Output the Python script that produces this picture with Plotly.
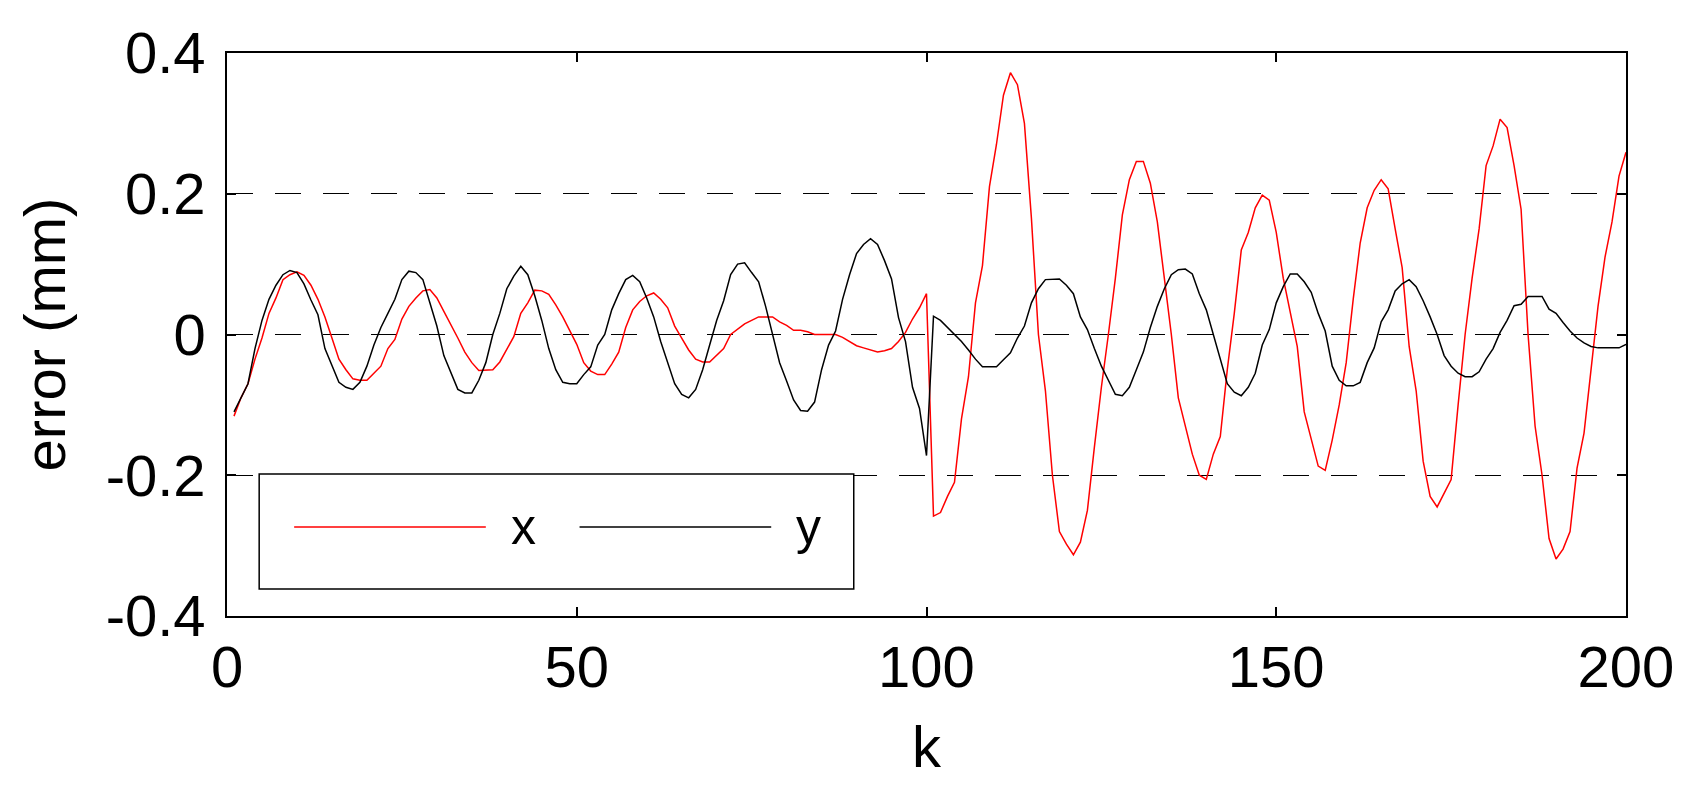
import plotly.graph_objects as go

k = list(range(1, 201))

error_x = [
    -0.116, -0.09, -0.07, -0.035, -0.005, 0.03, 0.052, 0.078, 0.085, 0.089,
    0.084, 0.07, 0.05, 0.025, -0.005, -0.035, -0.05, -0.063, -0.065, -0.065,
    -0.055, -0.045, -0.02, -0.007, 0.022, 0.04, 0.052, 0.062, 0.064, 0.052,
    0.033, 0.015, -0.005, -0.025, -0.04, -0.051, -0.051, -0.05, -0.039, -0.02,
    -0.003, 0.03, 0.045, 0.063, 0.062, 0.057, 0.042, 0.025, 0.006, -0.014,
    -0.04, -0.052, -0.057, -0.057, -0.042, -0.025, 0.01, 0.035, 0.047, 0.055,
    0.059, 0.05, 0.038, 0.012, -0.005, -0.022, -0.035, -0.039, -0.039, -0.03,
    -0.02, 0.0, 0.008, 0.015, 0.02, 0.025, 0.025, 0.025, 0.018, 0.013,
    0.006, 0.006, 0.004, 0.0, 0.0, 0.0, 0.0, -0.004, -0.01, -0.016,
    -0.019, -0.022, -0.025, -0.023, -0.02, -0.01, 0.003, 0.022, 0.038, 0.058,
    -0.258, -0.253, -0.23, -0.21, -0.12, -0.06, 0.045, 0.098, 0.21, 0.27,
    0.34, 0.372, 0.355, 0.3, 0.165, 0.0, -0.08, -0.2, -0.28, -0.298,
    -0.313, -0.295, -0.25, -0.16, -0.075, 0.0, 0.08, 0.17, 0.22, 0.246,
    0.246, 0.215, 0.16, 0.08, 0.0, -0.09, -0.13, -0.17, -0.2, -0.206,
    -0.17, -0.145, -0.05, 0.03, 0.12, 0.145, 0.18, 0.198, 0.191, 0.145,
    0.08, 0.03, -0.017, -0.11, -0.149, -0.187, -0.193, -0.15, -0.1, -0.04,
    0.05, 0.13, 0.18, 0.205, 0.22, 0.207, 0.15, 0.095, -0.017, -0.08,
    -0.18, -0.23, -0.245, -0.225, -0.206, -0.1, 0.0, 0.08, 0.15, 0.24,
    0.268, 0.306, 0.294, 0.24, 0.178, 0.0, -0.13, -0.2, -0.29, -0.319,
    -0.305, -0.28, -0.19, -0.14, -0.05, 0.04, 0.11, 0.16, 0.225, 0.259,
]

error_y = [
    -0.11, -0.09, -0.07, -0.02, 0.02, 0.05, 0.07, 0.085, 0.091, 0.088,
    0.072, 0.049, 0.028, -0.02, -0.045, -0.068, -0.075, -0.078, -0.068, -0.045,
    -0.015, 0.01, 0.03, 0.05, 0.078, 0.09, 0.088, 0.078, 0.045, 0.012,
    -0.03, -0.055, -0.078, -0.083, -0.083, -0.065, -0.04, 0.0, 0.03, 0.065,
    0.083, 0.097, 0.085, 0.055, 0.02, -0.02, -0.05, -0.068, -0.07, -0.07,
    -0.057, -0.046, -0.015, 0.0, 0.035, 0.058, 0.078, 0.084, 0.075, 0.052,
    0.025, -0.01, -0.04, -0.07, -0.085, -0.09, -0.078, -0.05, -0.015, 0.02,
    0.048, 0.085, 0.1, 0.102, 0.088, 0.075, 0.04, 0.0, -0.04, -0.066,
    -0.093, -0.108, -0.109, -0.096, -0.05, -0.015, 0.005, 0.05, 0.085, 0.115,
    0.128, 0.136, 0.128, 0.105, 0.079, 0.024, -0.01, -0.075, -0.105, -0.172,
    0.026, 0.02, 0.01, 0.0, -0.01, -0.022, -0.035, -0.046, -0.046, -0.046,
    -0.036, -0.026, -0.005, 0.012, 0.045, 0.065, 0.078, 0.079, 0.079, 0.07,
    0.058, 0.025, 0.007, -0.02, -0.045, -0.065, -0.085, -0.087, -0.075, -0.05,
    -0.025, 0.01, 0.04, 0.065, 0.085, 0.092, 0.093, 0.086, 0.058, 0.035,
    0.0, -0.035, -0.07, -0.082, -0.087, -0.075, -0.055, -0.015, 0.007, 0.045,
    0.068, 0.086, 0.086, 0.075, 0.06, 0.03, 0.005, -0.045, -0.065, -0.073,
    -0.073, -0.068, -0.04, -0.019, 0.018, 0.035, 0.062, 0.072, 0.078, 0.068,
    0.048, 0.025, 0.0, -0.03, -0.045, -0.055, -0.06, -0.06, -0.053, -0.035,
    -0.02, 0.003, 0.02, 0.041, 0.043, 0.054, 0.054, 0.054, 0.036, 0.03,
    0.017, 0.005, -0.005, -0.012, -0.017, -0.019, -0.019, -0.019, -0.019, -0.014,
]

x_ticks = [0, 50, 100, 150, 200]
y_ticks = [-0.4, -0.2, 0, 0.2, 0.4]
y_tick_labels = ["-0.4", "-0.2", "0", "0.2", "0.4"]
series_names = ["x", "y"]
series_colors = ["#ff0000", "#000000"]

FONT = "Liberation Sans, Arial, Helvetica, sans-serif"

fig = go.Figure()
for name, vals, col in zip(series_names, [error_x, error_y], series_colors):
    fig.add_trace(go.Scatter(x=k, y=vals, mode="lines", name=name,
                             line=dict(color=col, width=1.5), showlegend=False))

axis_common = dict(
    showline=True, linecolor="black", linewidth=1.5, mirror="ticks",
    ticks="inside", ticklen=9, tickwidth=1.5, tickcolor="black",
    tickfont=dict(family=FONT, size=58, color="black"),
    zeroline=False,
)

fig.update_xaxes(range=[0, 200], tickvals=x_ticks, showgrid=False,
                 ticklabelstandoff=0,
                 title=dict(text="k", font=dict(family=FONT, size=58, color="black"), standoff=28),
                 **axis_common)
fig.update_yaxes(range=[-0.4, 0.4], tickvals=y_ticks, ticktext=y_tick_labels,
                 showgrid=True, gridcolor="black", gridwidth=1, griddash="26px,22px",
                 ticklabelstandoff=8,
                 title=dict(text="error (mm)", font=dict(family=FONT, size=58, color="black"), standoff=21),
                 **axis_common)

# custom legend box (MATLAB-like long line samples)
lx0, lx1, ly0, ly1 = 0.023, 0.448, 0.048, 0.252
fig.add_shape(type="rect", xref="paper", yref="paper", x0=lx0, x1=lx1, y0=ly0, y1=ly1,
              line=dict(color="black", width=1.5), fillcolor="white", layer="above")
leg_y = 0.158
fig.add_shape(type="line", xref="paper", yref="paper", x0=0.048, x1=0.185, y0=leg_y, y1=leg_y,
              line=dict(color=series_colors[0], width=1.5), layer="above")
fig.add_shape(type="line", xref="paper", yref="paper", x0=0.252, x1=0.389, y0=leg_y, y1=leg_y,
              line=dict(color=series_colors[1], width=1.5), layer="above")
fig.add_annotation(xref="paper", yref="paper", x=0.212, y=leg_y, text=series_names[0],
                   showarrow=False, font=dict(family=FONT, size=50, color="black"),
                   xanchor="center", yanchor="middle")
fig.add_annotation(xref="paper", yref="paper", x=0.416, y=leg_y, text=series_names[1],
                   showarrow=False, font=dict(family=FONT, size=50, color="black"),
                   xanchor="center", yanchor="middle")

fig.update_layout(
    width=1695, height=793,
    margin=dict(l=219, r=77, t=41, b=185),
    paper_bgcolor="white", plot_bgcolor="white",
    font=dict(family=FONT, color="black"),
)

fig.write_html("out.html")
